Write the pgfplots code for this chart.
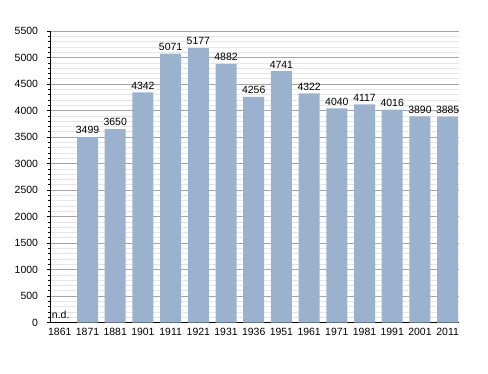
\documentclass[border=0pt]{standalone}
\usepackage{pgfplots}
\pgfplotsset{compat=1.18}
\usepackage{fontspec}
\setmainfont{Liberation Sans}
\definecolor{barblue}{HTML}{9BB2CF}
\begin{document}
\begin{tikzpicture}[x=1bp,y=1bp]
\useasboundingbox (0,0) rectangle (488,373);
\begin{axis}[
  at={(50bp,50.5bp)}, anchor=south west,
  scale only axis,
  width=409bp, height=291.5bp,
  xmin=-0.354, xmax=14.41,
  ymin=0, ymax=5500,
  axis x line=bottom, axis y line=left,
  axis line style={-, black, line width=0.8pt},
  xtick={0,...,14},
  xticklabels={1861,1871,1881,1901,1911,1921,1931,1936,1951,1961,1971,1981,1991,2001,2011},
  x tick style={draw=none},
  ytick={0,500,...,5500},
  minor y tick num=4,
  tick align=outside,
  major tick length=3.5bp,
  minor tick length=2.5bp,
  y tick style={black, line width=0.6pt},
  ymajorgrids, yminorgrids,
  major grid style={color=black!35, line width=0.6pt},
  minor grid style={color=black!10, line width=0.6pt},
  tick label style={font=\fontsize{10.5}{12}\selectfont},
  /pgf/number format/assume math mode=true,
  /pgf/number format/set thousands separator={},
  yticklabel style={xshift=-5bp},
  xticklabel style={yshift=1bp},
  ybar, bar width=21bp,
  nodes near coords,
  every node near coord/.append style={font=\fontsize{10.5}{12}\selectfont, anchor=south, inner sep=0pt, yshift=3bp, /pgf/number format/set thousands separator={}},
  clip=false,
]
\addplot[fill=barblue, draw=none] coordinates {
(1,3499) (2,3650) (3,4342) (4,5071) (5,5177) (6,4882) (7,4256) (8,4741)
(9,4322) (10,4040) (11,4117) (12,4016) (13,3890) (14,3885)};
\node[anchor=base west, inner sep=0pt, font=\fontsize{10.5}{12}\selectfont] at (axis cs:-0.29,75) {n.d.};
\end{axis}
\end{tikzpicture}
\end{document}
